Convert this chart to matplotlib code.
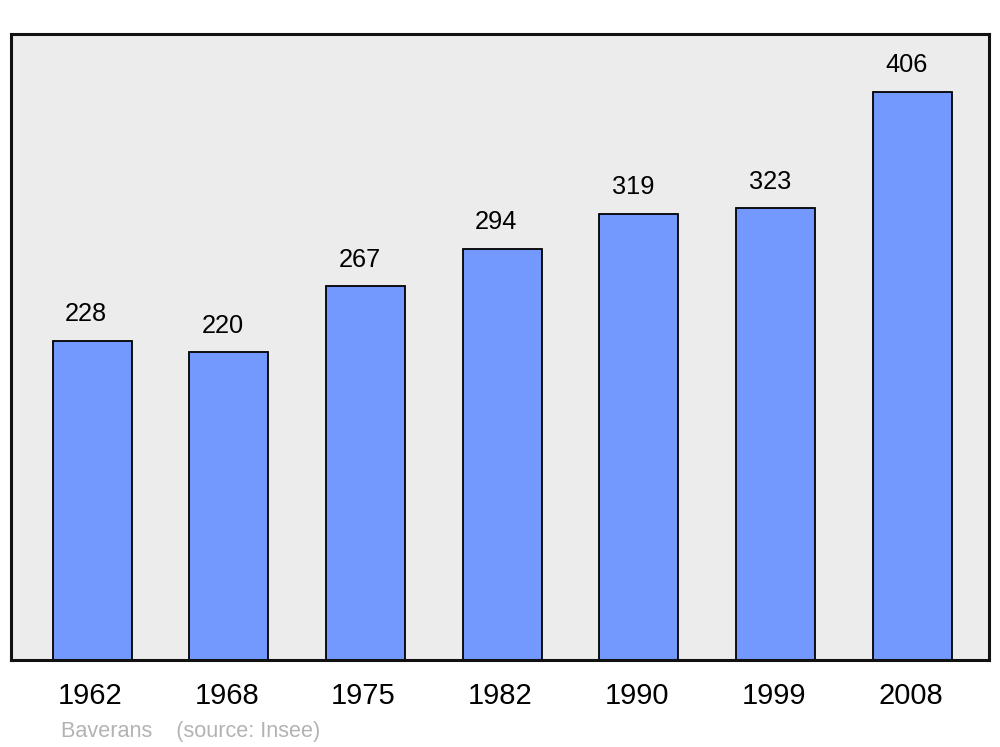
import matplotlib
matplotlib.use("Agg")
import matplotlib.pyplot as plt
from matplotlib.transforms import ScaledTranslation

years = ["1962", "1968", "1975", "1982", "1990", "1999", "2008"]
population = [228, 220, 267, 294, 319, 323, 406]
footer_name = "Baverans"
footer_source = "(source: Insee)"

plt.rcParams['font.family'] = ['Liberation Sans', 'DejaVu Sans']

fig = plt.figure(figsize=(10, 7.47), dpi=100)
ax = fig.add_axes([0.011, 1 - 660/747, 0.978, (660 - 34)/747])
ax.set_facecolor('#ececec')

x = list(range(len(years)))
bars = ax.bar(x, population, width=0.578, color='#7399ff', edgecolor='black', linewidth=1.3, zorder=2)
for xi, v in zip(x, population):
    ax.annotate(str(v), (xi, v), xytext=(-4.3, 10.5), textcoords='offset points',
                ha='center', va='bottom', fontsize=18.3)

ax.set_xlim(-0.593, 6.56)
ax.set_ylim(0, 447.5)
ax.set_yticks([])
ax.set_xticks(x)
ax.set_xticklabels(years, fontsize=21)
ax.tick_params(axis='x', length=0, pad=16)
shift = ScaledTranslation(-2/100, 0, fig.dpi_scale_trans)
for lbl in ax.get_xticklabels():
    lbl.set_transform(lbl.get_transform() + shift)
for s in ax.spines.values():
    s.set_linewidth(2.2)
    s.set_color('#111111')

fig.text(0.061, 1 - 732/747, footer_name + "    " + footer_source, color='#b3b3b3',
         fontsize=15.6, ha='left', va='center')

fig.savefig('out.png', dpi=100)
